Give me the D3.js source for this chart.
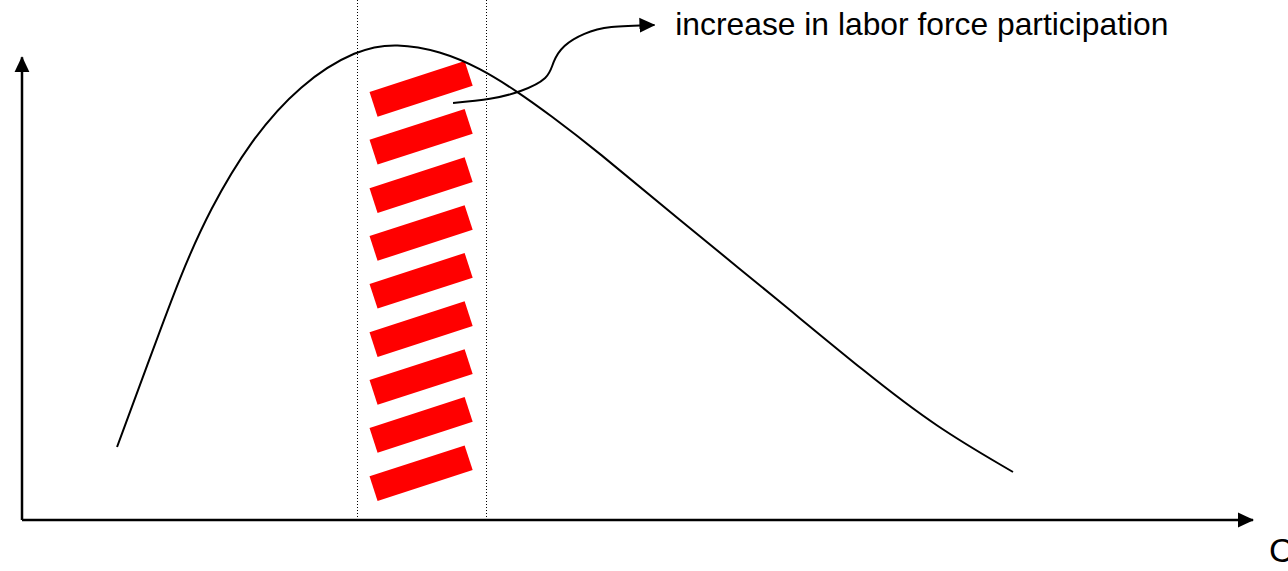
<!DOCTYPE html>
<html>
<head>
<meta charset="utf-8">
<script src="https://cdn.jsdelivr.net/npm/d3@7"></script>
<style>
  html, body { margin: 0; padding: 0; background: #fff; overflow: hidden; }
  svg { display: block; }
</style>
</head>
<body>
<svg id="chart"></svg>
<script>
// curve, in axis units (0..100 each way)
const curveX = [7.74, 10.42, 12.87, 15.31, 18.57, 22.64, 27.28, 30.54, 34.04, 37.3, 40.39, 43.0, 46.74, 53.26, 61.56, 68.73, 74.43, 80.7]
const curveY = [14.04, 31.15, 46.92, 59.81, 72.88, 83.85, 90.6, 91.7, 90.2, 86.92, 82.31, 77.88, 71.15, 58.27, 42.31, 28.27, 17.88, 9.23]

// band marked by the dotted lines
const bandEdges = [27.3, 37.8]

// red bars inside the band
const barX = 32.5
const barY = [82.9, 73.7, 64.4, 55.2, 46.0, 36.7, 27.5, 18.3, 9.0]

// annotation arrow and label
const noteX = [35.1, 38.1, 40.6, 42.6, 43.3, 44.2, 45.8, 48.0, 51.5]
const noteY = [80.2, 81.0, 82.5, 85.0, 88.1, 91.2, 93.5, 94.8, 95.2]
const noteLabel = "increase in labor force participation"
const axisLabel = "C"

const width = 1288, height = 571

const svg = d3.select("#chart").attr("width", width).attr("height", height)

const x = d3.scaleLinear().domain([0, 100]).range([22, 1250])
const y = d3.scaleLinear().domain([0, 100]).range([520, 0])

const defs = svg.append("defs")
defs.append("marker")
    .attr("id", "arrow")
    .attr("markerUnits", "userSpaceOnUse")
    .attr("viewBox", "0 -8 16 16")
    .attr("markerWidth", 16)
    .attr("markerHeight", 16)
    .attr("refX", 15)
    .attr("refY", 0)
    .attr("orient", "auto")
    .append("path")
    .attr("d", "M0,-7.5L16,0L0,7.5Z")
    .attr("fill", "#000")

// dotted band edges
svg.append("g").selectAll("line")
    .data(bandEdges)
    .join("line")
    .attr("x1", d => Math.round(x(d)) + 0.5)
    .attr("x2", d => Math.round(x(d)) + 0.5)
    .attr("y1", y(100))
    .attr("y2", y(0))
    .attr("stroke", "#000")
    .attr("stroke-width", 1)
    .attr("stroke-dasharray", "1,2")

// red bars
const barW = 100, barH = 26, barAngle = -18
svg.append("g").selectAll("rect")
    .data(barY)
    .join("rect")
    .attr("x", -barW / 2)
    .attr("y", -barH / 2)
    .attr("width", barW)
    .attr("height", barH)
    .attr("fill", "#ff0000")
    .attr("transform", d => `translate(${x(barX)},${y(d)}) rotate(${barAngle})`)

// main curve
const curvePts = curveX.map((d, i) => [d, curveY[i]])
const line = d3.line()
    .x(d => x(d[0]))
    .y(d => y(d[1]))
    .curve(d3.curveBasis)

svg.append("path")
    .datum(curvePts)
    .attr("d", line)
    .attr("fill", "none")
    .attr("stroke", "#000")
    .attr("stroke-width", 2)

// axes
const axisG = svg.append("g")
axisG.append("line")
    .attr("x1", x(0)).attr("y1", y(0))
    .attr("x2", x(100) + 3).attr("y2", y(0))
    .attr("stroke", "#000").attr("stroke-width", 2.5)
    .attr("marker-end", "url(#arrow)")
axisG.append("line")
    .attr("x1", x(0)).attr("y1", y(0))
    .attr("x2", x(0)).attr("y2", y(89))
    .attr("stroke", "#000").attr("stroke-width", 2.5)
    .attr("marker-end", "url(#arrow)")

// annotation
const notePts = noteX.map((d, i) => [d, noteY[i]])
const noteLine = d3.line()
    .x(d => x(d[0]))
    .y(d => y(d[1]))
    .curve(d3.curveNatural)

svg.append("path")
    .datum(notePts)
    .attr("d", noteLine)
    .attr("fill", "none")
    .attr("stroke", "#000")
    .attr("stroke-width", 2)
    .attr("marker-end", "url(#arrow)")

svg.append("text")
    .attr("x", x(53.2))
    .attr("y", y(93.3))
    .attr("font-family", "Liberation Sans, Arial, sans-serif")
    .attr("font-size", 31.8)
    .attr("fill", "#000")
    .text(noteLabel)

svg.append("text")
    .attr("x", 1269)
    .attr("y", 562)
    .attr("font-family", "Liberation Sans, Arial, sans-serif")
    .attr("font-size", 34)
    .attr("fill", "#000")
    .text(axisLabel)
</script>
</body>
</html>
